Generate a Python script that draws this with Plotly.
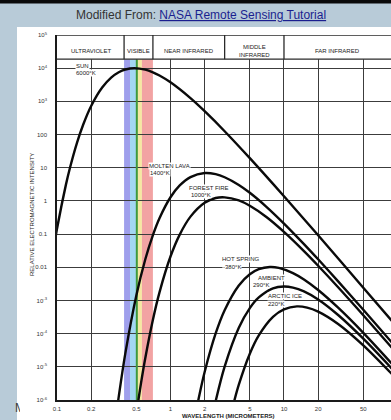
import math
import plotly.graph_objects as go

# ---------------- data ----------------
sun_wl = [0.09, 0.1, 0.12, 0.13, 0.15, 0.17, 0.2, 0.25, 0.3, 0.35, 0.4, 0.48, 0.6, 0.7, 0.8,
          1, 1.5, 2, 3, 5, 10, 20, 50, 100]
sun_val = [0.0170, 0.144, 3.15, 9.82, 56.1, 197, 726, 2610, 5190, 7540, 9110, 10000, 9000, 7480, 5990,
           3740, 1250, 504, 126, 19.4, 1.38, 0.0918, 0.00243, 0.000154]

lava_wl = [0.33, 0.35, 0.4, 0.5, 0.6, 0.7, 0.8, 1, 1.2, 1.5, 2, 2.5, 3, 4, 5, 7, 10, 15, 20, 30, 50, 100]
lava_val = [2.85e-7, 1.26e-6, 2.54e-5, 1.42e-3, 0.0175, 0.0935, 0.301, 1.29, 2.87, 5.21, 6.90, 6.38,
            5.17, 3.03, 1.76, 0.666, 0.208, 0.0500, 0.0174, 0.00377, 5.24e-4, 3.45e-5]

fire_wl = [0.48, 0.5, 0.55, 0.6, 0.7, 0.8, 1, 1.2, 1.5, 2, 2.5, 3, 4, 5, 7, 10, 15, 20, 30, 50, 100]
fire_val = [1.41e-7, 3.81e-7, 3.24e-6, 1.85e-5, 2.63e-4, 1.76e-3, 0.0211, 0.0933, 0.336, 0.878, 1.22,
            1.28, 1.03, 0.713, 0.327, 0.116, 0.0306, 0.0111, 0.00250, 3.59e-4, 2.42e-5]

spring_wl = [1.6, 1.8, 2, 2.5, 3, 4, 5, 6, 7.5, 9, 12, 15, 20, 30, 50, 100]
spring_val = [1.88e-7, 1.45e-6, 7.01e-6, 1.01e-4, 5.08e-4, 2.83e-3, 6.16e-3, 8.75e-3, 0.0102, 9.57e-3,
              6.69e-3, 4.29e-3, 2.07e-3, 6.07e-4, 1.06e-4, 8.12e-6]

ambient_wl = [2.3, 2.5, 3, 4, 5, 6, 8, 10, 12, 15, 20, 30, 50, 100]
ambient_val = [2.49e-7, 9.20e-7, 1.01e-5, 1.50e-4, 5.87e-4, 1.23e-3, 2.32e-3, 2.64e-3, 2.44e-3,
               1.87e-3, 1.07e-3, 3.64e-4, 7.05e-5, 5.82e-6]

ice_wl = [3.3, 3.5, 4, 5, 6, 8, 10, 13, 16, 20, 30, 50, 100]
ice_val = [2.36e-7, 5.46e-7, 2.89e-6, 2.49e-5, 8.87e-5, 3.21e-4, 5.41e-4, 6.62e-4, 6.09e-4, 4.62e-4,
           1.96e-4, 4.43e-5, 4.05e-6]

x_tickvals = [0.1, 0.2, 0.5, 1, 2, 5, 10, 20, 50]
x_ticktext = ["0.1", "0.2", "0.5", "1", "2", "5", "10", "20", "50"]
y_tickvals = [1e-6, 1e-5, 1e-4, 1e-3, 1e-2, 1e-1, 1, 10, 100, 1e3, 1e4, 1e5]
y_ticktext = ["10<sup>-6</sup>", "10<sup>-5</sup>", "10<sup>-4</sup>", "10<sup>-3</sup>", "0.01", "0.1",
              "1", "10", "100", "10<sup>3</sup>", "10<sup>4</sup>", "10<sup>5</sup>"]

# spectral regions (micrometers)
region_names = ["ULTRAVIOLET", "VISIBLE", "NEAR INFRARED", "MIDDLE<br>INFRARED", "FAR INFRARED"]
region_edges = [0.1, 0.39, 0.70, 3.0, 10.0, 88.0]
# visible colour bands
band_edges = [0.39, 0.44, 0.50, 0.51, 0.56, 0.70]
band_colors = ["#9f9fec", "#a3d7f2", "#ffffff", "#f5e8a2", "#f2a3a3"]
green_line_at = 0.505

# ---------------- layout geometry ----------------
W, H = 391, 420
L, R, T, B = 57, 0, 35, 20
PW, PH = W - L - R, H - T - B
HEADER_LOG = 4.27  # header bottom (log10 of intensity)


def px(x):
    return (x - L) / PW


def py(y):
    return (H - B - y) / PH


FONT = "Liberation Sans"
INK = "#222222"
GRID = "#3c3c3c"

fig = go.Figure()
curves = [(sun_wl, sun_val), (lava_wl, lava_val), (fire_wl, fire_val),
          (spring_wl, spring_val), (ambient_wl, ambient_val), (ice_wl, ice_val)]
for wl, val in curves:
    fig.add_trace(go.Scatter(x=wl, y=val, mode="lines", hoverinfo="skip", showlegend=False,
                             line=dict(color="#0a0a0a", width=2.4, shape="spline", smoothing=0.9)))

shapes = []
# page: white picture area and black top bar
shapes.append(dict(type="rect", xref="paper", yref="paper", x0=px(17), x1=px(W + 5), y0=py(H + 5), y1=py(27),
                   fillcolor="white", line_width=0, layer="below"))
shapes.append(dict(type="rect", xref="paper", yref="paper", x0=px(-5), x1=px(W + 5), y0=py(3.5), y1=py(-5),
                   fillcolor="#0a0a0a", line_width=0, layer="above"))
# visible colour bands
for i, c in enumerate(band_colors):
    shapes.append(dict(type="rect", xref="x", yref="y", x0=band_edges[i], x1=band_edges[i + 1],
                       y0=1e-6, y1=10 ** HEADER_LOG, fillcolor=c, line_width=0, layer="below"))
shapes.append(dict(type="line", xref="x", yref="y", x0=green_line_at, x1=green_line_at,
                   y0=1e-6, y1=10 ** HEADER_LOG, line=dict(color="#3f9a3a", width=2), layer="between"))
# header box (white cover over gridlines) + its lines
shapes.append(dict(type="rect", xref="x", yref="y", x0=0.05, x1=500, y0=10 ** HEADER_LOG, y1=2e5,
                   fillcolor="white", line_width=0, layer="between"))
shapes.append(dict(type="line", xref="paper", yref="y", x0=0, x1=1, y0=1e5, y1=1e5,
                   line=dict(color="#2a2a2a", width=1.3), layer="above"))
shapes.append(dict(type="line", xref="paper", yref="y", x0=0, x1=1, y0=10 ** HEADER_LOG, y1=10 ** HEADER_LOG,
                   line=dict(color="#2a2a2a", width=1.3), layer="above"))
for e in region_edges[1:-1]:
    shapes.append(dict(type="line", xref="x", yref="y", x0=e, x1=e, y0=10 ** HEADER_LOG, y1=1e5,
                       line=dict(color="#2a2a2a", width=1.3), layer="above"))

annotations = []
# title line
annotations.append(dict(xref="paper", yref="paper", x=px(201), y=py(15), showarrow=False,
                        xanchor="center", yanchor="middle",
                        text='<span style="color:#333333">Modified From: </span>'
                             '<span style="color:#1b1f8f"><u>NASA Remote Sensing Tutorial</u></span>',
                        font=dict(family=FONT, size=12)))
# cut-off caption letter at bottom left
annotations.append(dict(xref="paper", yref="paper", x=px(12.5), y=py(407.5), showarrow=False,
                        xanchor="left", yanchor="middle", text="M", width=5, align="left",
                        font=dict(family=FONT, size=12, color="#3a3a3a")))
# region header labels
for i, name in enumerate(region_names):
    a, b = region_edges[i], region_edges[i + 1]
    cx = (math.log10(a) + math.log10(b)) / 2
    annotations.append(dict(xref="x", yref="paper", x=cx, y=py(50.5), showarrow=False,
                            xanchor="center", yanchor="middle", text=name,
                            font=dict(family=FONT, size=6, color=INK)))

# curve labels: (text, left px, centre y px)
labels = [("SUN", 75, 66), ("6000°K", 75, 73),
          ("MOLTEN LAVA", 148, 166), ("1400°K", 149, 173),
          ("FOREST FIRE", 188, 188), ("1000°K", 190, 195),
          ("HOT SPRING", 221, 259), ("-380°K", 222, 267),
          ("AMBIENT", 257, 278), ("290°K", 252, 285),
          ("ARCTIC ICE", 267, 296), ("220°K", 267, 304)]
for t, lx, ly in labels:
    annotations.append(dict(xref="paper", yref="paper", x=px(lx), y=py(ly), showarrow=False,
                            xanchor="left", yanchor="middle", text=t, bgcolor="white", borderpad=0,
                            font=dict(family=FONT, size=6, color=INK)))
# axis titles
annotations.append(dict(xref="paper", yref="paper", x=px(228), y=py(415.5), showarrow=False,
                        xanchor="center", yanchor="middle", text="<b>WAVELENGTH (MICROMETERS)</b>",
                        font=dict(family=FONT, size=6, color=INK)))
annotations.append(dict(xref="paper", yref="paper", x=px(32), y=py(215), showarrow=False, textangle=-90,
                        xanchor="center", yanchor="middle", text="RELATIVE ELECTROMAGNETIC INTENSITY",
                        font=dict(family=FONT, size=6, color=INK)))
# partially visible last x tick label
annotations.append(dict(xref="x", yref="paper", x=2, y=py(406.5), showarrow=False,
                        xanchor="center", yanchor="middle", text="100",
                        font=dict(family=FONT, size=6, color="#333333")))

fig.update_layout(
    width=W, height=H, autosize=False,
    margin=dict(l=L, r=R, t=T, b=B, pad=0),
    paper_bgcolor="#b8cbd8", plot_bgcolor="white",
    shapes=shapes, annotations=annotations, showlegend=False,
    font=dict(family=FONT),
)
fig.update_xaxes(type="log", range=[-1, 1.943], tickvals=x_tickvals, ticktext=x_ticktext,
                 showgrid=True, gridcolor=GRID, gridwidth=1.3, zeroline=False,
                 showline=True, linecolor="#1a1a1a", linewidth=1.6, ticks="", ticklabelstandoff=2,
                 tickfont=dict(family=FONT, size=6, color="#333333"))
fig.update_yaxes(type="log", range=[-6, 5], tickvals=y_tickvals, ticktext=y_ticktext,
                 showgrid=True, gridcolor=GRID, gridwidth=1.3, zeroline=False,
                 showline=True, linecolor="#1a1a1a", linewidth=1.6, ticks="", ticklabelstandoff=7,
                 tickfont=dict(family=FONT, size=6, color="#333333"))

fig.write_html("out.html", config={"displayModeBar": False},
               post_script="document.body.style.margin='0';document.body.style.background='#b8cbd8';")
